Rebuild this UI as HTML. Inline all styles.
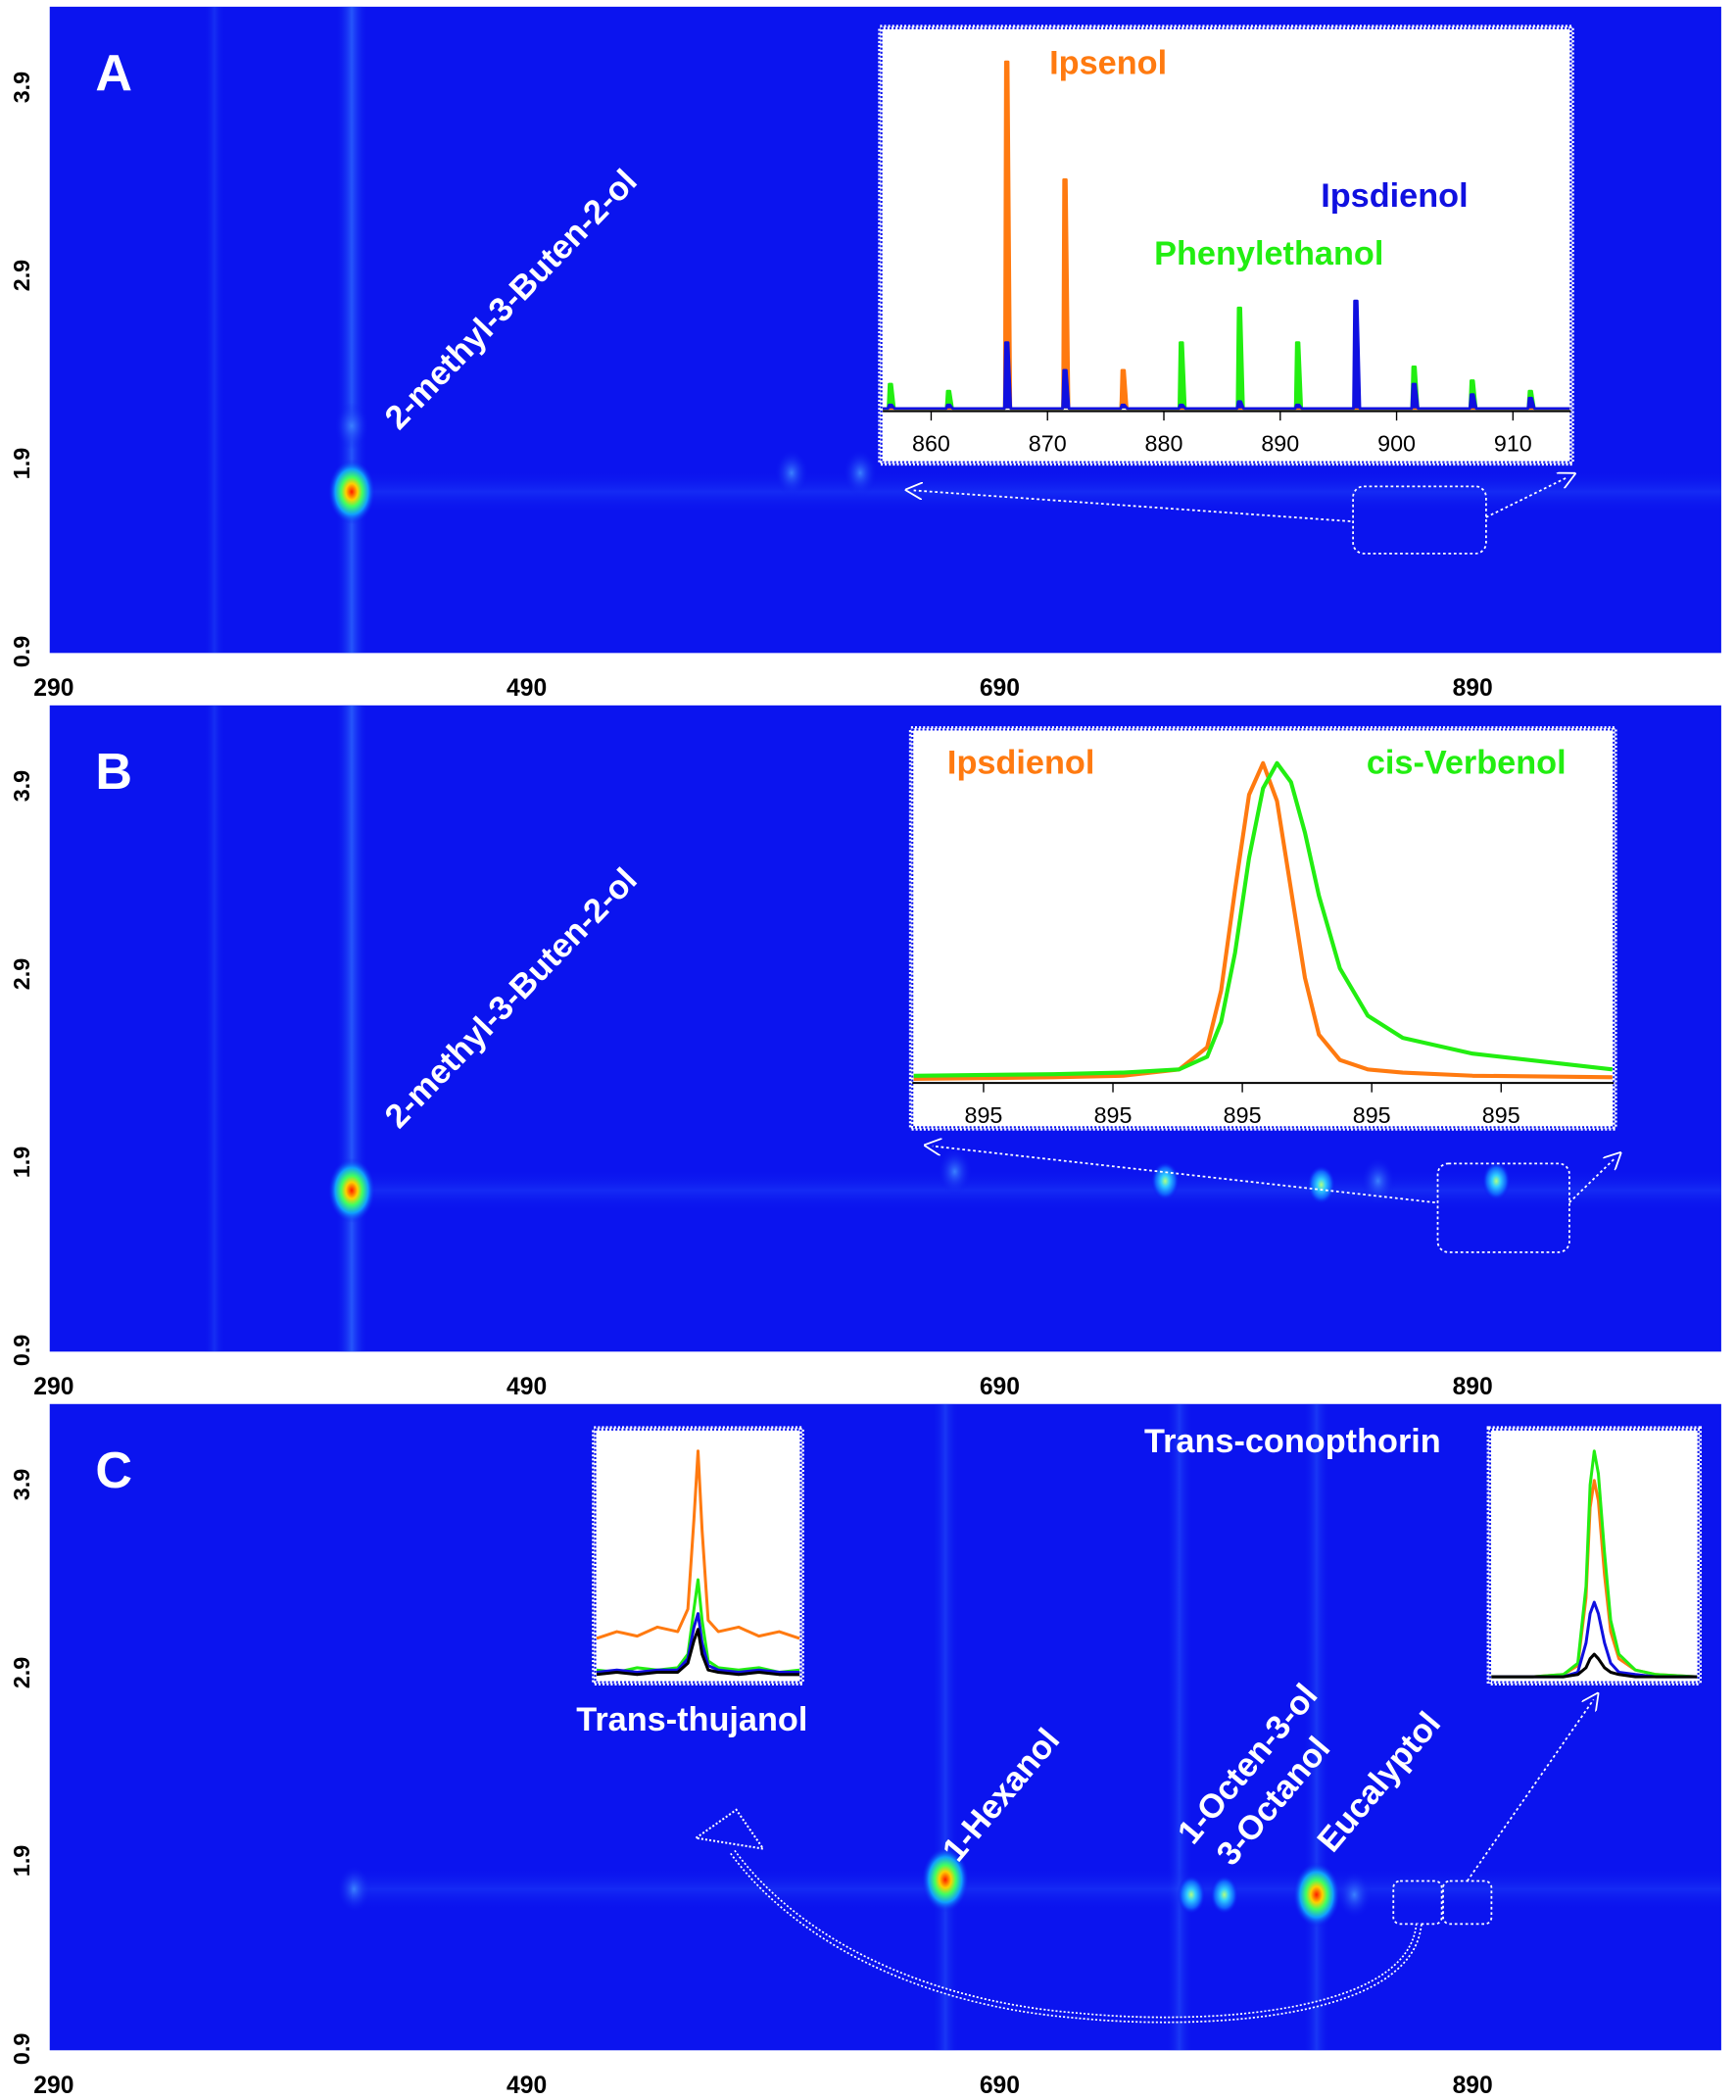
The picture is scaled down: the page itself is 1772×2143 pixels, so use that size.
<!DOCTYPE html>
<html><head><meta charset="utf-8"><style>
html,body{margin:0;padding:0;background:#fff;}
svg{display:block;}
text{font-family:"Liberation Sans","DejaVu Sans",sans-serif;}
</style></head><body>
<svg id="fig" width="1772" height="2143" viewBox="0 0 1292 1563" preserveAspectRatio="none" xmlns="http://www.w3.org/2000/svg">
<defs>
 <radialGradient id="hot"><stop offset="0" stop-color="#ff1a00"/><stop offset="0.25" stop-color="#ffd000"/><stop offset="0.45" stop-color="#40ff60"/><stop offset="0.7" stop-color="#10a0ff"/><stop offset="1" stop-color="#0b14ef" stop-opacity="0"/></radialGradient>
 <radialGradient id="mid"><stop offset="0" stop-color="#b0ff80"/><stop offset="0.3" stop-color="#30d0ff"/><stop offset="0.7" stop-color="#1060ff"/><stop offset="1" stop-color="#0b14ef" stop-opacity="0"/></radialGradient>
 <radialGradient id="faint"><stop offset="0" stop-color="#3a80ff"/><stop offset="1" stop-color="#0b14ef" stop-opacity="0"/></radialGradient>
 <linearGradient id="streak" x1="0" x2="1"><stop offset="0" stop-color="#0b14ef" stop-opacity="0"/><stop offset="0.5" stop-color="#2f6cff"/><stop offset="1" stop-color="#0b14ef" stop-opacity="0"/></linearGradient>
 <linearGradient id="hband" x1="0" x2="0" y1="0" y2="1"><stop offset="0" stop-color="#0b14ef" stop-opacity="0"/><stop offset="0.5" stop-color="#2a5cff" stop-opacity="0.7"/><stop offset="1" stop-color="#0b14ef" stop-opacity="0"/></linearGradient>
 <marker id="ah" markerWidth="10" markerHeight="10" refX="5" refY="5" orient="auto"><path d="M0,0 L10,5 L0,10" fill="none" stroke="#fff" stroke-width="1"/></marker>
</defs>
<g id="panels"></g>
</svg>
<script>
const NS='http://www.w3.org/2000/svg';
const svg=document.getElementById('fig');
const root=document.getElementById('panels');
// ---- shared axis data ----
const xTicks=[290,490,690,890];
const yTicks=[0.9,1.9,2.9,3.9];
const panelTops=[5,525,1045];
const panelLetters=['A','B','C'];
// ---- blobs (x in 1st dim s, y in 2nd dim s, intensity kind) ----
const blobsA_x=[416,416,602,631];
const blobsA_y=[1.75,2.1,1.85,1.85];
const blobsA_k=['hot','faint','faint','faint'];
const blobsB_x=[416,760,826,900,671,850];
const blobsB_y=[1.75,1.8,1.78,1.8,1.85,1.8];
const blobsB_k=['hot','mid','mid','mid','faint','faint'];
const blobsC_x=[417,667,771,785,824,840];
const blobsC_y=[1.75,1.8,1.72,1.72,1.72,1.72];
const blobsC_k=['faint','hot','mid','mid','hot','faint'];
// ---- inset A peaks ----
const insAx=[856.5,861.5,866.5,871.5,876.5,881.5,886.5,891.5,896.5,901.5,906.5,911.5];
const insA_orange=[0,0,100,66,11,0,0,0,0,0,0,0];
const insA_green=[7,5,22,10,6,19,29,19,0,12,8,5];
const insA_blue=[1,1,19,11,1,1,2,1,31,7,4,3];
// ---- inset B curves ----
const insBx=[0,20,30,38,42,44,46,48,50,52,54,56,58,61,65,70,80,100];
const insB_orange=[0,0.5,1,3,10,28,60,90,100,88,60,32,14,6,3,2,1,0.5];
const insB_green=[1,1.5,2,3,7,18,40,70,92,100,94,78,58,35,20,13,8,3];
const insBTicks=['895','895','895','895','895'];
// ---- inset C curves ----
const insC1x=[0,10,20,30,40,45,48,50,52,55,60,70,80,90,100];
const insC1_orange=[17,20,18,22,20,30,70,100,65,25,20,22,18,20,17];
const insC1_green=[3,2,4,3,4,10,30,43,25,7,4,3,4,2,3];
const insC1_blue=[2,3,2,3,3,8,22,28,15,5,3,2,3,2,2];
const insC1_black=[1,2,1,2,2,6,16,21,10,3,2,1,2,1,1];
const insC2x=[0,20,35,42,46,48,50,52,55,58,62,70,80,100];
const insC2_green=[0,0,1,6,40,85,100,90,55,25,10,3,1,0];
const insC2_orange=[0,0,1,5,35,75,87,78,45,20,8,3,1,0];
const insC2_blue=[0,0,0,2,15,28,33,28,15,6,2,1,0,0];
const insC2_black=[0,0,0,1,4,8,10,8,4,2,1,0,0,0];

function el(tag,attrs,parent,name,inter){
  const e=document.createElementNS(NS,tag);
  for(const k in attrs)e.setAttribute(k,attrs[k]);
  if(name){}
  
  (parent||root).appendChild(e);return e;
}
const X0=37,X1=1281;
function sx(v){return 40+(v-290)*1.76;}
function syFor(top){return v=>top+480-(v-0.9)*140;}

panelTops.forEach((top,i)=>{
  const g=el('g',{},root,'panel-'+panelLetters[i].toLowerCase());
  const sy=syFor(top);
  el('rect',{x:X0,y:top,width:X1-X0,height:481,fill:'#0b14ef'},g,'heatmap-background');
  if(i<2){
    el('rect',{x:sx(416)-12,y:top,width:24,height:481,fill:'url(#streak)',opacity:0.75},g,'column-streak');
    el('rect',{x:sx(358)-8,y:top,width:16,height:481,fill:'url(#streak)',opacity:0.3},g,'column-streak');
  } else {
    [667,766,824].forEach(v=>{
      const s=el('rect',{x:sx(v)-10,y:top,width:20,height:481,fill:'url(#streak)',opacity:0.4},g);
      
    });
  }
  el('rect',{x:sx(416),y:sy(1.75)-16,width:X1-sx(416),height:32,fill:'url(#hband)',opacity:0.45},g,'baseline-band');
  const bx=[blobsA_x,blobsB_x,blobsC_x][i],by=[blobsA_y,blobsB_y,blobsC_y][i],bk=[blobsA_k,blobsB_k,blobsC_k][i];
  bx.forEach((v,j)=>{
    const r=bk[j]==='hot'?22:bk[j]==='mid'?13:16;
    const e=el('ellipse',{cx:sx(v),cy:sy(by[j]),rx:r*0.8,ry:r*1.1,fill:'url(#'+bk[j]+')'},g);
    
  });
  yTicks.forEach(v=>{
    const t=el('text',{x:0,y:0,transform:`translate(22,${sy(v)}) rotate(-90)`,'text-anchor':'middle','font-size':17,'font-weight':'bold',fill:'#000'},g);
    
    t.textContent=v.toFixed(1);
  });
  xTicks.forEach(v=>{
    const t=el('text',{x:sx(v),y:top+513,'text-anchor':v===290?'start':'middle','font-size':18,'font-weight':'bold',fill:'#000'},g);
    
    if(v===290)t.setAttribute('x',X0-12);
    t.textContent=v;
  });
  const L=el('text',{x:71,y:top+62,'font-size':38,'font-weight':'bold',fill:'#fff'},g,'panel-letter');
  L.textContent=panelLetters[i];
  if(i<2){
    const c=el('text',{x:0,y:0,transform:`translate(297,${top+316}) rotate(-46)`,'font-size':25,'font-weight':'bold',fill:'#fff'},g,'compound-label');
    c.textContent='2-methyl-3-Buten-2-ol';
  }
});

function insetBox(x,y,w,h,name){
  return el('rect',{x:x,y:y,width:w,height:h,fill:'#fff',stroke:'#fff','stroke-width':3,'stroke-dasharray':'1.5 1.5'},root,name);
}
function dotted(d,name,marker){
  const p=el('path',{d:d,fill:'none',stroke:'#fff','stroke-width':1.3,'stroke-dasharray':'2 2'},root,name);
  if(marker)p.setAttribute('marker-end','url(#ah)');
  return p;
}
function txt(x,y,s,size,fill,name,anchor,bold){
  const t=el('text',{x:x,y:y,'font-size':size,'font-weight':bold===false?'normal':'bold',fill:fill,'text-anchor':anchor||'start'},root,name);
  t.textContent=s;return t;
}

// ===== Panel A inset =====
insetBox(655,20,515,325,'inset-a');
el('rect',{x:656,y:21,width:513,height:323,fill:'#fff',stroke:'#0b14ef','stroke-width':1.5,'stroke-dasharray':'1.5 1.5'},root,'inset-a-border');
(function(){
  const ax=v=>693+(v-860)*8.66, base=304, ay=h=>base-h*2.58;
  const series=[['green',insA_green,'#22ee11'],['orange',insA_orange,'#ff7a10'],['blue',insA_blue,'#1010e0']];
  series.forEach(([n,arr,col])=>{
    let d=`M657,${base}`;
    insAx.forEach((v,j)=>{
      if(arr[j]<=0)return;
      const x=ax(v);
      d+=` L${x-1.8},${base} L${x-1},${ay(arr[j])} L${x+1},${ay(arr[j])} L${x+3},${base}`;
    });
    d+=` L1168,${base}`;
    el('path',{d:d,fill:col,stroke:col,'stroke-width':2,'stroke-linejoin':'round'},root,'series-'+n+'-peaks');
  });
  el('line',{x1:657,x2:1169,y1:base+2,y2:base+2,stroke:'#000','stroke-width':1.5},root,'inset-a-x-axis');
  [860,870,880,890,900,910].forEach(v=>{
    const t=el('line',{x1:ax(v),x2:ax(v),y1:base+2,y2:base+9,stroke:'#000','stroke-width':1},root);
    
    txt(ax(v),base+32,String(v),17,'#000','inset-a-tick-label','middle',false);
  });
  txt(781,55,'Ipsenol',25,'#ff7a10','legend-ipsenol');
  txt(983,154,'Ipsdienol',25,'#1010e0','legend-ipsdienol');
  txt(859,197,'Phenylethanol',25,'#22ee11','legend-phenylethanol');
})();
el('rect',{x:1007,y:362,width:99,height:50,rx:8,fill:'none',stroke:'#fff','stroke-width':1.3,'stroke-dasharray':'2 2'},root,'zoom-region-a');
dotted('M1005,388 L680,365','connector-a-left',true);
dotted('M1106,385 L1167,355','connector-a-right',true);

// ===== Panel B inset =====
insetBox(678,542,524,298,'inset-b');
el('rect',{x:679,y:543,width:522,height:296,fill:'#fff',stroke:'#0b14ef','stroke-width':1.5,'stroke-dasharray':'1.5 1.5'},root,'inset-b-border');
(function(){
  const ax=v=>680+v*5.2, ay=h=>803-h*2.35;
  [['orange',insB_orange,'#ff7a10'],['green',insB_green,'#22ee11']].forEach(([n,arr,col])=>{
    let d='';
    insBx.forEach((v,j)=>{d+=(j?' L':'M')+ax(v)+','+ay(arr[j]);});
    el('path',{d:d,fill:'none',stroke:col,'stroke-width':3,'stroke-linejoin':'round'},root,'curve-'+n);
  });
  el('line',{x1:679,x2:1201,y1:806,y2:806,stroke:'#000','stroke-width':1.5},root,'inset-b-x-axis');
  insBTicks.forEach((s,j)=>{
    const x=732+j*96.3;
    const t=el('line',{x1:x,x2:x,y1:806,y2:813,stroke:'#000','stroke-width':1},root);
    
    txt(x,836,s,17,'#000','inset-b-tick-label','middle',false);
  });
  txt(705,576,'Ipsdienol',25,'#ff7a10','legend-ipsdienol-b');
  txt(1017,576,'cis-Verbenol',25,'#22ee11','legend-cis-verbenol');
})();
el('rect',{x:1070,y:866,width:98,height:66,rx:8,fill:'none',stroke:'#fff','stroke-width':1.3,'stroke-dasharray':'2 2'},root,'zoom-region-b');
dotted('M1068,895 L694,853','connector-b-left',true);
dotted('M1168,895 L1202,862','connector-b-right',true);

// ===== Panel C insets =====
function smallInset(x0,y0,w,h,xs,list,name){
  insetBox(x0,y0,w,h,name);
  el('rect',{x:x0+1,y:y0+1,width:w-2,height:h-2,fill:'#fff',stroke:'#0b14ef','stroke-width':1.5,'stroke-dasharray':'1.5 1.5'},root,name+'-border');
  const ax=v=>x0+2+v*(w-4)/100, ay=hh=>y0+h-5-hh*(h-22)/100;
  list.forEach(([n,arr,col])=>{
    let d='';
    xs.forEach((v,j)=>{d+=(j?' L':'M')+ax(v)+','+ay(arr[j]);});
    el('path',{d:d,fill:'none',stroke:col,'stroke-width':2.2,'stroke-linejoin':'round'},root,name+'-'+n);
  });
}
smallInset(442,1063,155,190,insC1x,[['orange',insC1_orange,'#ff7a10'],['green',insC1_green,'#22ee11'],['blue',insC1_blue,'#1010e0'],['black',insC1_black,'#000']],'inset-thujanol');
smallInset(1108,1063,157,190,insC2x,[['orange',insC2_orange,'#ff7a10'],['green',insC2_green,'#22ee11'],['blue',insC2_blue,'#1010e0'],['black',insC2_black,'#000']],'inset-conophthorin');
txt(515,1288,'Trans-thujanol',25,'#fff','label-trans-thujanol','middle');
txt(962,1081,'Trans-conopthorin',25,'#fff','label-trans-conopthorin','middle');
[['1-Hexanol',713,1387],['1-Octen-3-ol',888,1374],['3-Octanol',917,1390],['Eucalyptol',992,1380]].forEach(([s,x,y])=>{
  const t=el('text',{x:0,y:0,transform:`translate(${x},${y}) rotate(-50)`,'font-size':25,'font-weight':'bold',fill:'#fff'},root);
  
  t.textContent=s;
});
el('rect',{x:1037,y:1400,width:36,height:32,rx:5,fill:'none',stroke:'#fff','stroke-width':1.3,'stroke-dasharray':'2 2'},root,'zoom-region-c1');
el('rect',{x:1074,y:1400,width:36,height:32,rx:5,fill:'none',stroke:'#fff','stroke-width':1.3,'stroke-dasharray':'2 2'},root,'zoom-region-c2');
dotted('M1092,1400 L1186,1265','connector-c-right',true);
el('path',{d:'M1056,1432 C1050,1500 900,1510 800,1500 C680,1490 590,1440 545,1378',fill:'none',stroke:'#fff','stroke-width':5,'stroke-dasharray':'1.5 1.5'},root,'curved-arrow-shaft');
el('path',{d:'M1056,1432 C1050,1500 900,1510 800,1500 C680,1490 590,1440 545,1378',fill:'none',stroke:'#0b14ef','stroke-width':2.5},root,'curved-arrow-core');
el('path',{d:'M518,1368 L548,1347 L568,1376 Z',fill:'#0b14ef',stroke:'#fff','stroke-width':1.5,'stroke-dasharray':'1.5 1.5'},root,'curved-arrow-head');
</script>
</body></html>
